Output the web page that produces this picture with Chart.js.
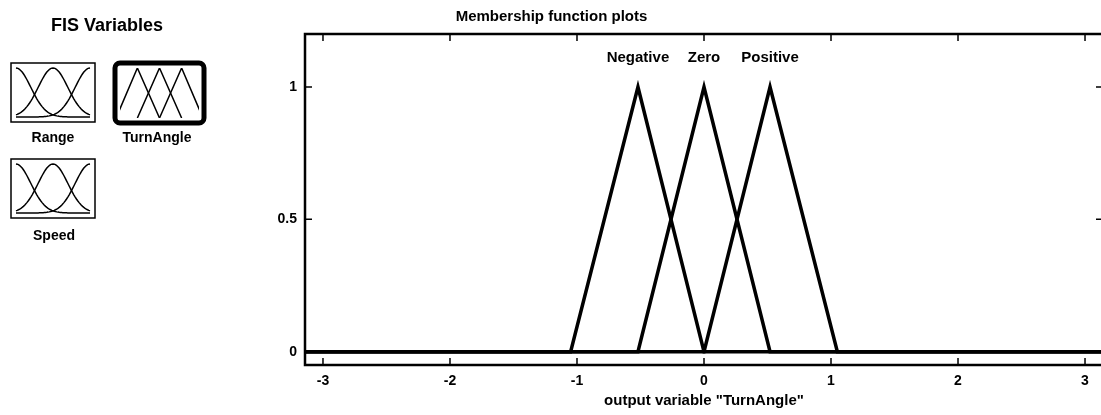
<!DOCTYPE html>
<html>
<head>
<meta charset="utf-8">
<title>Membership function plots</title>
<script src="https://cdn.jsdelivr.net/npm/chart.js@4/dist/chart.umd.min.js"></script>
<style>
  html, body { margin: 0; padding: 0; background: #fff; overflow: hidden; }
  #wrap { position: absolute; left: 0; top: 0; width: 1110px; height: 415px; }
</style>
</head>
<body>
<div id="wrap"><canvas id="c" width="1110" height="415"></canvas></div>
<script>
// Output variable "TurnAngle": three triangular membership functions [a, b, c]
const mfNames = ['Negative', 'Zero', 'Positive'];
const mfNegative = [-1.05, -0.52, 0];
const mfZero = [-0.52, 0, 0.52];
const mfPositive = [0, 0.52, 1.05];
const xRange = [-3.1416, 3.1416];
const yRange = [-0.05, 1.2];
const xTicks = [-3, -2, -1, 0, 1, 2, 3];
const yTicks = [0, 0.5, 1];
const inputVars = ['Range', 'TurnAngle', 'Speed'];

const FONT = '"Liberation Sans", Arial, Helvetica, sans-serif';
Chart.defaults.font.family = FONT;
Chart.defaults.color = '#000';

const mfParams = [mfNegative, mfZero, mfPositive];

function mfPoints(p) {
  return [
    { x: xRange[0], y: 0 },
    { x: p[0], y: 0 },
    { x: p[1], y: 1 },
    { x: p[2], y: 0 },
    { x: xRange[1], y: 0 }
  ];
}

const datasets = mfParams.map((p, i) => ({
  label: mfNames[i],
  data: mfPoints(p),
  borderColor: '#000',
  borderWidth: 3.5,
  borderJoinStyle: 'miter',
  pointRadius: 0,
  tension: 0,
  fill: false
}));

// Frame around the plot with inward tick marks on all four sides
const framePlugin = {
  id: 'frame',
  afterDatasetsDraw(chart) {
    const { ctx, chartArea: a, scales } = chart;
    ctx.save();
    ctx.strokeStyle = '#000';
    ctx.lineWidth = 2.5;
    ctx.strokeRect(a.left, a.top, a.right - a.left, a.bottom - a.top);
    ctx.lineWidth = 1.5;
    const len = 7;
    ctx.beginPath();
    xTicks.forEach(v => {
      const x = scales.x.getPixelForValue(v);
      ctx.moveTo(x, a.bottom); ctx.lineTo(x, a.bottom - len);
      ctx.moveTo(x, a.top); ctx.lineTo(x, a.top + len);
    });
    yTicks.forEach(v => {
      const y = scales.y.getPixelForValue(v);
      ctx.moveTo(a.left, y); ctx.lineTo(a.left + len, y);
      ctx.moveTo(a.right, y); ctx.lineTo(a.right - len, y);
    });
    ctx.stroke();
    ctx.restore();
  }
};

// Membership function names above their peaks
const mfLabelPlugin = {
  id: 'mfLabels',
  afterDatasetsDraw(chart) {
    const { ctx, scales } = chart;
    ctx.save();
    ctx.font = 'bold 15px ' + FONT;
    ctx.fillStyle = '#000';
    ctx.textAlign = 'center';
    ctx.textBaseline = 'middle';
    mfParams.forEach((p, i) => {
      const x = scales.x.getPixelForValue(p[1]);
      const y = scales.y.getPixelForValue(1) - 29;
      ctx.fillText(mfNames[i], x, y);
    });
    ctx.restore();
  }
};

// "FIS Variables" panel with small icons for each variable
function drawGaussIcon(ctx, x0, y0, x1, y1) {
  ctx.lineWidth = 1.5;
  ctx.strokeRect(x0, y0, x1 - x0, y1 - y0);
  const ix0 = x0 + 5, ix1 = x1 - 5, iy0 = y0 + 5, iy1 = y1 - 5;
  const w = ix1 - ix0, h = iy1 - iy0;
  [0, 0.5, 1].forEach(c => {
    ctx.beginPath();
    for (let k = 0; k <= 60; k++) {
      const t = k / 60;
      const g = Math.exp(-((t - c) * (t - c)) / (2 * 0.2 * 0.2));
      const px = ix0 + t * w, py = iy1 - g * h;
      if (k === 0) ctx.moveTo(px, py); else ctx.lineTo(px, py);
    }
    ctx.stroke();
  });
}

function drawTriIcon(ctx, x0, y0, x1, y1) {
  ctx.lineWidth = 5;
  const r = 5;
  ctx.beginPath();
  ctx.moveTo(x0 + r, y0);
  ctx.arcTo(x1, y0, x1, y1, r);
  ctx.arcTo(x1, y1, x0, y1, r);
  ctx.arcTo(x0, y1, x0, y0, r);
  ctx.arcTo(x0, y0, x1, y0, r);
  ctx.closePath();
  ctx.stroke();
  const ix0 = x0 + 5, ix1 = x1 - 5, iy0 = y0 + 5, iy1 = y1 - 5;
  const w = ix1 - ix0, h = iy1 - iy0;
  ctx.save();
  ctx.beginPath();
  ctx.rect(ix0, iy0, w, h);
  ctx.clip();
  ctx.lineWidth = 1.5;
  [[-0.05, 0.22, 0.5], [0.22, 0.5, 0.78], [0.5, 0.78, 1.05]].forEach(t => {
    ctx.beginPath();
    ctx.moveTo(ix0 + t[0] * w, iy1);
    ctx.lineTo(ix0 + t[1] * w, iy0);
    ctx.lineTo(ix0 + t[2] * w, iy1);
    ctx.stroke();
  });
  ctx.restore();
}

const panelPlugin = {
  id: 'fisPanel',
  afterDraw(chart) {
    const ctx = chart.ctx;
    ctx.save();
    ctx.fillStyle = '#000';
    ctx.strokeStyle = '#000';
    ctx.textAlign = 'center';
    ctx.textBaseline = 'middle';
    ctx.font = 'bold 18px ' + FONT;
    ctx.fillText('FIS Variables', 107, 26);

    drawGaussIcon(ctx, 11, 63, 95, 122);
    drawTriIcon(ctx, 115, 63, 204, 123);
    drawGaussIcon(ctx, 11, 159, 95, 218);

    ctx.font = 'bold 14px ' + FONT;
    ctx.fillText(inputVars[0], 53, 138);
    ctx.fillText(inputVars[1], 157, 138);
    ctx.fillText(inputVars[2], 54, 236);
    ctx.restore();
  }
};

new Chart(document.getElementById('c'), {
  type: 'line',
  data: { datasets },
  plugins: [framePlugin, mfLabelPlugin, panelPlugin],
  options: {
    responsive: false,
    animation: false,
    devicePixelRatio: 1,
    parsing: true,
    layout: { padding: { left: 0, right: 7, top: 0, bottom: 0 } },
    plugins: {
      legend: { display: false },
      tooltip: { enabled: false },
      title: {
        display: true,
        text: 'Membership function plots',
        color: '#000',
        font: { size: 15, weight: 'bold' },
        padding: { top: 8, bottom: 8 }
      }
    },
    scales: {
      x: {
        type: 'linear',
        min: xRange[0],
        max: xRange[1],
        afterBuildTicks: s => { s.ticks = xTicks.map(v => ({ value: v })); },
        afterFit: s => { s.height = 50; },
        grid: { display: false, drawTicks: false },
        border: { display: false },
        ticks: {
          color: '#000',
          font: { size: 14, weight: 'bold' },
          padding: 8,
          maxRotation: 0,
          autoSkip: false,
          callback: v => String(v)
        },
        title: {
          display: true,
          text: 'output variable "TurnAngle"',
          color: '#000',
          font: { size: 15, weight: 'bold' },
          padding: { top: 0, bottom: 5 }
        }
      },
      y: {
        type: 'linear',
        min: yRange[0],
        max: yRange[1],
        afterBuildTicks: s => { s.ticks = yTicks.map(v => ({ value: v })); },
        afterFit: s => { s.width = 305; },
        grid: { display: false, drawTicks: false },
        border: { display: false },
        ticks: {
          color: '#000',
          font: { size: 14, weight: 'bold' },
          padding: 8,
          autoSkip: false,
          callback: v => String(v)
        }
      }
    }
  }
});
</script>
</body>
</html>
